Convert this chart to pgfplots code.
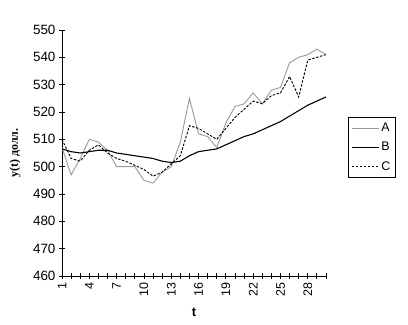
\documentclass[border=0pt]{standalone}
\usepackage{fontspec}
\setmainfont{Liberation Sans}
\newfontfamily\serifcyr{Liberation Serif}
\usepackage{pgfplots}
\pgfplotsset{compat=1.18}
\begin{document}
\begin{tikzpicture}
\path (-62bp,-49bp) rectangle (346bp,276bp);
\begin{axis}[
  at={(0,0)}, anchor=south west,
  scale only axis, width=264bp, height=246bp,
  xmin=1, xmax=30, ymin=460, ymax=550,
  axis lines*=left,
  ytick={460,470,...,550},
  xtick={1,4,...,28},
  minor xtick={1,...,30},
  tick align=center,
  major tick length=6bp, minor tick length=6bp,
  every tick/.style={black, line width=0.8bp},
  axis line style={black, line width=0.8bp},
  yticklabel style={font=\fontsize{13.5}{15}\selectfont},
  xticklabel style={rotate=90, anchor=east, font=\fontsize{12.5}{14}\selectfont},
  /pgf/number format/assume math mode=true,
  xlabel={\bfseries t},
  xlabel style={at={(axis description cs:0.5,-0.146)}, anchor=center, font=\fontsize{13}{15}\selectfont},
  ylabel={\serifcyr\bfseries y(t) долл.},
  ylabel style={at={(axis description cs:-0.178,0.5)}, anchor=center, font=\fontsize{12}{14}\selectfont},
  legend style={at={(axis description cs:1.083,0.646)}, anchor=north west, draw=black, line width=0.6bp,
    font=\fontsize{12.5}{14}\selectfont, row sep=5bp, inner xsep=3bp, inner ysep=4bp},
  legend cell align=left,
  legend image code/.code={\draw[#1] (0bp,0bp) -- (27bp,0bp);},
]
\addplot[black!40, line width=0.9bp] coordinates {
(1,507) (2,497) (3,503) (4,510) (5,509) (6,506) (7,500) (8,500) (9,500) (10,495)
(11,494) (12,498) (13,500) (14,509) (15,525) (16,512) (17,511) (18,507) (19,516) (20,522)
(21,523) (22,527) (23,523) (24,528) (25,529) (26,538) (27,540) (28,541) (29,543) (30,541)};
\addlegendentry{A}
\addplot[black, line width=1.1bp] coordinates {
(1,506.5) (2,505.5) (3,505) (4,505.5) (5,506) (6,506) (7,505) (8,504.5) (9,504) (10,503.5)
(11,503) (12,502) (13,501.5) (14,502) (15,504) (16,505.5) (17,506) (18,506.5) (19,508) (20,509.5)
(21,511) (22,512) (23,513.5) (24,515) (25,516.5) (26,518.5) (27,520.5) (28,522.5) (29,524) (30,525.5)};
\addlegendentry{B}
\addplot[black, line width=0.9bp, dash pattern=on 2.5bp off 1.5bp] coordinates {
(1,510) (2,503) (3,502) (4,506) (5,508) (6,505) (7,503) (8,502) (9,500.5) (10,499)
(11,496.5) (12,498) (13,501) (14,504) (15,515) (16,514) (17,512) (18,510) (19,514) (20,518)
(21,521) (22,524) (23,523) (24,526) (25,527) (26,533) (27,525.5) (28,539) (29,540) (30,541)};
\addlegendentry{C}
\end{axis}
\end{tikzpicture}
\end{document}
